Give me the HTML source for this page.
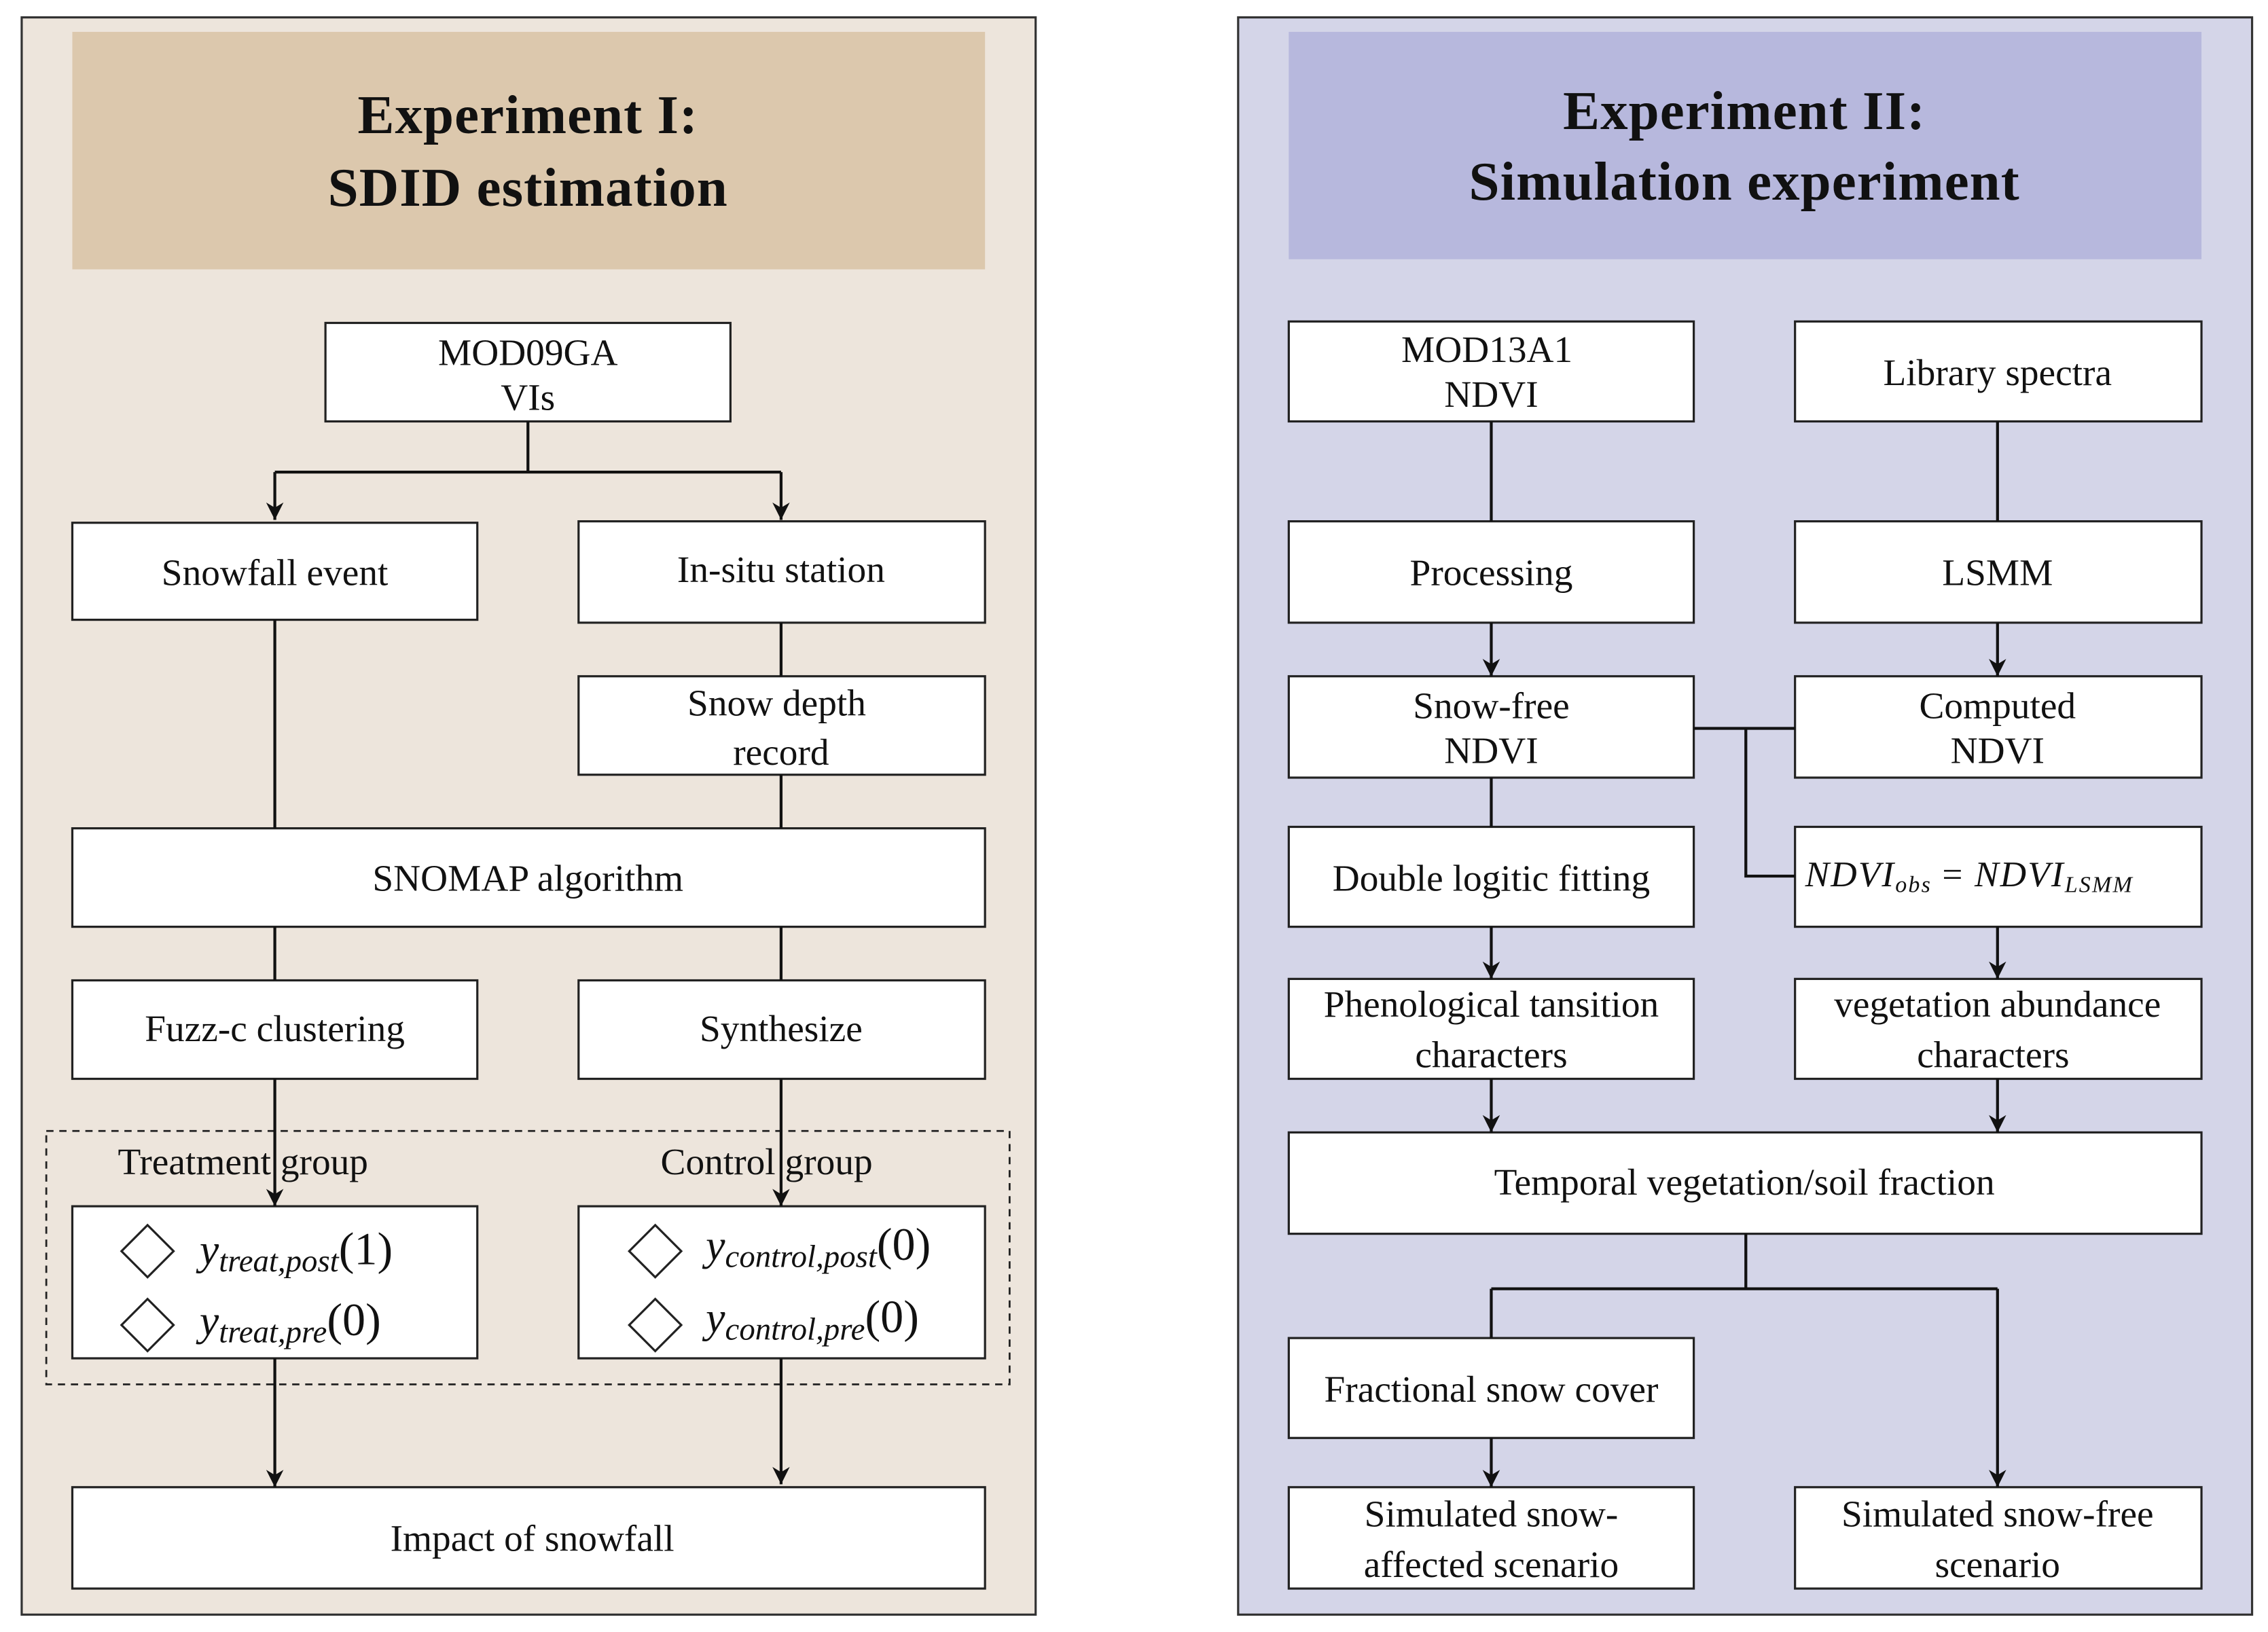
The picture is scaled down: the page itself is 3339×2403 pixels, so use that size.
<!DOCTYPE html>
<html><head><meta charset="utf-8"><style>
html,body{margin:0;padding:0;background:#fff;}
svg{display:block;}
text{font-family:"Liberation Serif",serif;fill:#111;}
.t{font-size:26px;text-anchor:middle;}
.h{font-size:38px;font-weight:bold;text-anchor:middle;letter-spacing:0.5px;}
.m{font-style:italic;}
</style></head><body>
<svg width="3339" height="2403" viewBox="0 0 1568 1127" preserveAspectRatio="none" xmlns="http://www.w3.org/2000/svg">
<defs><marker id="a" markerWidth="12" markerHeight="12" refX="10" refY="5" orient="auto" markerUnits="userSpaceOnUse" viewBox="0 0 10 10"><path d="M0,0 L10,5 L0,10 L3,5 Z" fill="#111"/></marker></defs>
<rect width="1568" height="1127" fill="#fff"/>
<!-- Left panel -->
<rect x="15" y="12" width="701" height="1103" fill="#ede5dc" stroke="#333" stroke-width="1.5"/>
<rect x="50" y="22" width="631" height="164" fill="#dcc8ad"/>
<text class="h" x="365" y="92">Experiment  I:</text>
<text class="h" x="365" y="142">SDID estimation</text>
<g fill="#fff" stroke="#222" stroke-width="1.5">
<rect x="225" y="223" width="280" height="68"/>
<rect x="50" y="361" width="280" height="67"/>
<rect x="400" y="360" width="281" height="70"/>
<rect x="400" y="467" width="281" height="68"/>
<rect x="50" y="572" width="631" height="68"/>
<rect x="50" y="677" width="280" height="68"/>
<rect x="400" y="677" width="281" height="68"/>
<rect x="50" y="833" width="280" height="105"/>
<rect x="400" y="833" width="281" height="105"/>
<rect x="50" y="1027" width="631" height="70"/>
</g>
<rect x="32" y="781" width="666" height="175" fill="none" stroke="#222" stroke-width="1.3" stroke-dasharray="5,4"/>
<g stroke="#111" stroke-width="2" fill="none">
<path d="M365 291V326M190 326H540"/>
<path d="M190 326V359" marker-end="url(#a)"/>
<path d="M540 326V359" marker-end="url(#a)"/>
<path d="M190 428V572M540 430V467M540 535V572M190 640V677M540 640V677"/>
<path d="M190 745V833" marker-end="url(#a)"/>
<path d="M540 745V833" marker-end="url(#a)"/>
<path d="M190 938V1027" marker-end="url(#a)"/>
<path d="M540 938V1025" marker-end="url(#a)"/>
</g>
<text class="t" x="365" y="252">MOD09GA</text>
<text class="t" x="365" y="283">VIs</text>
<text class="t" x="190" y="404">Snowfall event</text>
<text class="t" x="540" y="402">In-situ station</text>
<text class="t" x="537" y="494">Snow depth</text>
<text class="t" x="540" y="528">record</text>
<text class="t" x="365" y="615">SNOMAP algorithm</text>
<text class="t" x="190" y="719">Fuzz-c clustering</text>
<text class="t" x="540" y="719">Synthesize</text>
<text class="t" x="168" y="811">Treatment group</text>
<text class="t" x="530" y="811">Control group</text>
<g fill="none" stroke="#222" stroke-width="1.5">
<path d="M84 864L102 846L120 864L102 882Z"/><path d="M84 915L102 897L120 915L102 933Z"/>
<path d="M435 864L453 846L471 864L453 882Z"/><path d="M435 915L453 897L471 915L453 933Z"/>
</g>
<text x="138" y="873" style="font-size:30px" class="m">y<tspan font-size="22" dy="5">treat,post</tspan><tspan font-style="normal" font-size="32" dy="-5">(1)</tspan></text>
<text x="138" y="922" style="font-size:30px" class="m">y<tspan font-size="22" dy="5">treat,pre</tspan><tspan font-style="normal" font-size="32" dy="-5">(0)</tspan></text>
<text x="488" y="870" style="font-size:30px" class="m">y<tspan font-size="22" dy="5">control,post</tspan><tspan font-style="normal" font-size="32" dy="-5">(0)</tspan></text>
<text x="488" y="920" style="font-size:30px" class="m">y<tspan font-size="22" dy="5">control,pre</tspan><tspan font-style="normal" font-size="32" dy="-5">(0)</tspan></text>
<text class="t" x="368" y="1071">Impact of snowfall</text>
<!-- Right panel -->
<rect x="856" y="12" width="701" height="1103" fill="#d4d5e8" stroke="#333" stroke-width="1.5"/>
<rect x="891" y="22" width="631" height="157" fill="#b7b8dd"/>
<text class="h" x="1206" y="89">Experiment  II:</text>
<text class="h" x="1206" y="138">Simulation experiment</text>
<g fill="#fff" stroke="#222" stroke-width="1.5">
<rect x="891" y="222" width="280" height="69"/>
<rect x="1241" y="222" width="281" height="69"/>
<rect x="891" y="360" width="280" height="70"/>
<rect x="1241" y="360" width="281" height="70"/>
<rect x="891" y="467" width="280" height="70"/>
<rect x="1241" y="467" width="281" height="70"/>
<rect x="891" y="571" width="280" height="69"/>
<rect x="1241" y="571" width="281" height="69"/>
<rect x="891" y="676" width="280" height="69"/>
<rect x="1241" y="676" width="281" height="69"/>
<rect x="891" y="782" width="631" height="70"/>
<rect x="891" y="924" width="280" height="69"/>
<rect x="891" y="1027" width="280" height="70"/>
<rect x="1241" y="1027" width="281" height="70"/>
</g>
<g stroke="#111" stroke-width="2" fill="none">
<path d="M1031 291V360M1381 291V360M1171 503H1241M1207 503V605H1241M1031 537V571M1207 852V890M1031 890H1381M1031 890V924"/>
<path d="M1031 430V467" marker-end="url(#a)"/>
<path d="M1381 430V467" marker-end="url(#a)"/>
<path d="M1031 640V676" marker-end="url(#a)"/>
<path d="M1381 640V676" marker-end="url(#a)"/>
<path d="M1031 745V782" marker-end="url(#a)"/>
<path d="M1381 745V782" marker-end="url(#a)"/>
<path d="M1381 890V1027" marker-end="url(#a)"/>
<path d="M1031 993V1027" marker-end="url(#a)"/>
</g>
<text class="t" x="1028" y="250">MOD13A1</text>
<text class="t" x="1031" y="281">NDVI</text>
<text class="t" x="1381" y="266">Library spectra</text>
<text class="t" x="1031" y="404">Processing</text>
<text class="t" x="1381" y="404">LSMM</text>
<text class="t" x="1031" y="496">Snow-free</text>
<text class="t" x="1031" y="527">NDVI</text>
<text class="t" x="1381" y="496">Computed</text>
<text class="t" x="1381" y="527">NDVI</text>
<text class="t" x="1031" y="615">Double logitic fitting</text>
<text x="1248" y="612" style="font-size:25px;letter-spacing:1px" class="m">NDVI<tspan font-size="16" dy="4">obs</tspan><tspan font-style="normal" dy="-4"> = </tspan>NDVI<tspan font-size="16" dy="4">LSMM</tspan></text>
<text class="t" x="1031" y="702">Phenological tansition</text>
<text class="t" x="1031" y="737">characters</text>
<text class="t" x="1381" y="702">vegetation abundance</text>
<text class="t" x="1378" y="737">characters</text>
<text class="t" x="1206" y="825">Temporal vegetation/soil fraction</text>
<text class="t" x="1031" y="968">Fractional snow cover</text>
<text class="t" x="1031" y="1054">Simulated snow-</text>
<text class="t" x="1031" y="1089">affected scenario</text>
<text class="t" x="1381" y="1054">Simulated snow-free</text>
<text class="t" x="1381" y="1089">scenario</text>
</svg>
</body></html>
